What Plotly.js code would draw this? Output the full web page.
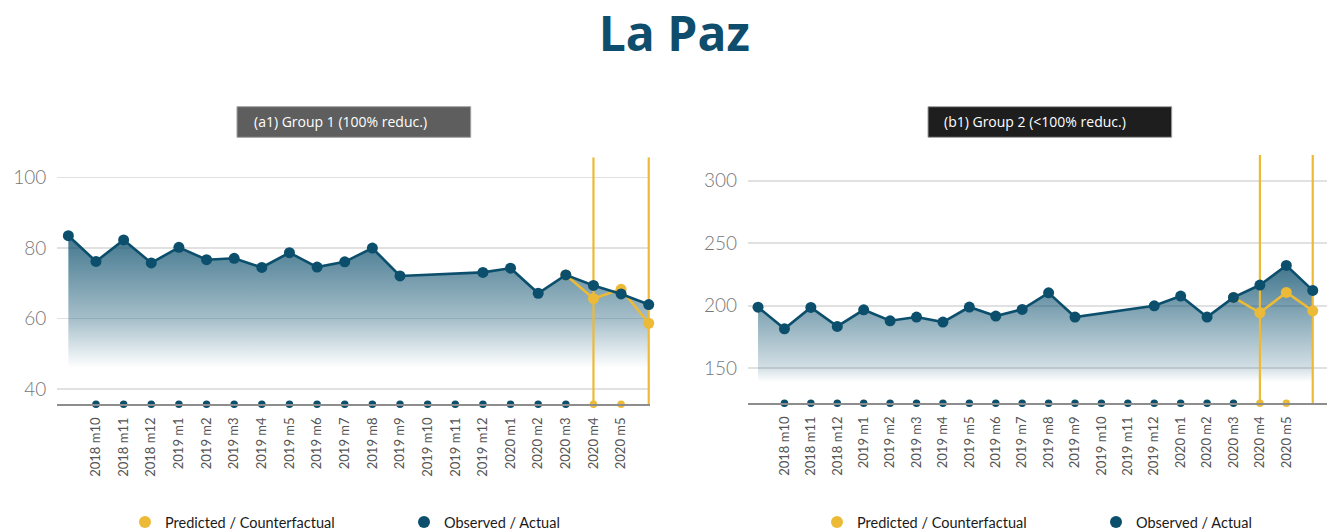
<!DOCTYPE html>
<html>
<head>
<meta charset="utf-8">
<script src="https://cdn.plot.ly/plotly-3.0.1.min.js"></script>
<style>
  html, body { margin: 0; padding: 0; background: #ffffff; }
  #chart { width: 1330px; height: 531px; }
</style>
</head>
<body>
<div id="chart"></div>
<script>
// ---------- DATA ----------
const chartTitle = "La Paz";
const panelTitleA = "(a1) Group 1 (100% reduc.)";
const panelTitleB = "(b1) Group 2 (<100% reduc.)";

// periods on the x axis (first and last are plotted but not labelled)
const periods = ["2018 m9", "2018 m10", "2018 m11", "2018 m12",
  "2019 m1", "2019 m2", "2019 m3", "2019 m4", "2019 m5", "2019 m6",
  "2019 m7", "2019 m8", "2019 m9", "2019 m10", "2019 m11", "2019 m12",
  "2020 m1", "2020 m2", "2020 m3", "2020 m4", "2020 m5", "2020 m6"];
const tickLabels = periods.slice(1, 21);            // "2018 m10" ... "2020 m5"
const observedTickLabels = tickLabels.slice(0, 18); // up to 2020 m3
const predictedTickLabels = tickLabels.slice(18);   // 2020 m4, 2020 m5
const interventionMarks = ["2020 m4", "2020 m6"];

// Group 1 (100% reduction)
const observedA = [83.5, 76.2, 82.3, 75.8, 80.2, 76.7, 77.1, 74.5, 78.7, 74.6,
  76.1, 80.0, 72.1, null, null, 73.1, 74.3, 67.2, 72.4, 69.4, 67.0, 64.0];
const predictedA = [null, null, null, null, null, null, null, null, null, null,
  null, null, null, null, null, null, null, null, 72.4, 65.7, 68.3, 58.7];

// Group 2 (<100% reduction)
const observedB = [198.9, 181.6, 198.7, 183.5, 196.8, 188.0, 191.0, 187.0, 199.0, 191.8,
  197.1, 210.4, 191.0, null, null, 200.0, 207.8, 191.0, 206.7, 216.6, 232.3, 212.3];
const predictedB = [null, null, null, null, null, null, null, null, null, null,
  null, null, null, null, null, null, null, null, 206.7, 194.4, 210.7, 196.0];

const yTicksA = [40, 60, 80, 100];
const yTicksB = [150, 200, 250, 300];

const legendPredicted = "Predicted / Counterfactual";
const legendObserved = "Observed / Actual";

// ---------- STYLE ----------
const W = 1330, H = 531;
const BLUE = "#0c4f6d";
const GOLD = "#ecba36";
const rangeYA = [35.75, 105.7];
const rangeYB = [122, 320.6];
const px = v => v / W;
const py = v => (H - v) / H;

function fillTrace(y, xa, ya, start, stop, stops) {
  return {
    x: periods, y: y, xaxis: xa, yaxis: ya, type: "scatter", mode: "lines",
    connectgaps: true, fill: "tozeroy", line: { width: 0, color: "rgba(0,0,0,0)" },
    fillcolor: "rgba(12,80,110,0.4)",
    fillgradient: { type: "vertical", start: start, stop: stop, colorscale: stops },
    hoverinfo: "skip", showlegend: false
  };
}
function vlineTraces(xa, ya, yr) {
  return interventionMarks.map(p => ({
    x: [p, p], y: [yr[0], yr[1]], xaxis: xa, yaxis: ya, type: "scatter", mode: "lines",
    line: { color: GOLD, width: 2.2 }, cliponaxis: false, showlegend: false, hoverinfo: "skip"
  }));
}
function lineTrace(y, color, xa, ya) {
  return {
    x: periods, y: y, xaxis: xa, yaxis: ya, type: "scatter", mode: "lines+markers",
    connectgaps: true, line: { color: color, width: 2.6 },
    marker: { color: color, size: 11 }, cliponaxis: false, showlegend: false
  };
}
function dotTrace(xs, color, xa, ya, yr) {
  return {
    x: xs, y: xs.map(() => yr[0]), xaxis: xa, yaxis: ya, type: "scatter", mode: "markers",
    marker: { color: color, size: 7.5 }, cliponaxis: false, showlegend: false, hoverinfo: "skip"
  };
}
function legendTrace(name, color, legend) {
  return {
    x: [null], y: [null], type: "scatter", mode: "markers", name: name,
    marker: { color: color, size: 12 }, legend: legend, showlegend: true
  };
}

const scaleA = [[0, "rgba(12,80,110,0)"], [0.37, "rgba(12,80,110,0.37)"], [1, "rgba(12,80,110,0.79)"]];
const scaleB = [[0, "rgba(12,80,110,0)"], [0.12, "rgba(12,80,110,0.18)"], [0.65, "rgba(12,80,110,0.55)"], [1, "rgba(12,80,110,0.79)"]];

const data = [
  fillTrace(observedA, "x", "y", 46, 84, scaleA),
  ...vlineTraces("x", "y", rangeYA),
  lineTrace(predictedA, GOLD, "x", "y"),
  lineTrace(observedA, BLUE, "x", "y"),
  dotTrace(observedTickLabels, BLUE, "x", "y", rangeYA),
  dotTrace(predictedTickLabels, GOLD, "x", "y", rangeYA),

  fillTrace(observedB, "x2", "y2", 139, 233, scaleB),
  ...vlineTraces("x2", "y2", rangeYB),
  lineTrace(predictedB, GOLD, "x2", "y2"),
  lineTrace(observedB, BLUE, "x2", "y2"),
  dotTrace(observedTickLabels, BLUE, "x2", "y2", rangeYB),
  dotTrace(predictedTickLabels, GOLD, "x2", "y2", rangeYB),

  legendTrace(legendPredicted, GOLD, "legend"),
  legendTrace(legendObserved, BLUE, "legend"),
  legendTrace(legendPredicted, GOLD, "legend2"),
  legendTrace(legendObserved, BLUE, "legend2")
];

const xBase = {
  type: "category", categoryorder: "array", categoryarray: periods,
  tickmode: "array", tickvals: tickLabels, ticktext: tickLabels,
  tickangle: -90, ticks: "", showgrid: false, zeroline: false,
  showline: true, linecolor: "#8d8d8d", linewidth: 2,
  tickfont: { family: "Lato, 'Open Sans', sans-serif", size: 13, color: "#555555" },
  ticklabelstandoff: 6, fixedrange: true, automargin: false
};
const yBase = {
  tickmode: "array", ticks: "", showline: false, zeroline: false,
  showgrid: true, gridcolor: "#e1e1e1", gridwidth: 1.6,
  tickfont: { family: "Lato, 'Open Sans', sans-serif", size: 19, color: "#777777", weight: 300 },
  ticklabelstandoff: 10, fixedrange: true, automargin: false
};

const layout = {
  width: W, height: H,
  margin: { l: 0, r: 0, t: 0, b: 0, autoexpand: false },
  paper_bgcolor: "#ffffff", plot_bgcolor: "rgba(0,0,0,0)",
  font: { family: "Lato, 'Open Sans', sans-serif" },
  title: {
    text: "<b>" + chartTitle + "</b>", x: 0.507, xanchor: "center", y: 1 - 34 / H, yanchor: "middle",
    font: { family: "'Open Sans', Lato, sans-serif", size: 48, color: "#0f4d6c" }
  },
  xaxis: Object.assign({}, xBase, { domain: [px(57.3), px(650.4)], range: [-0.4, 21.06], anchor: "y" }),
  yaxis: Object.assign({}, yBase, { domain: [py(404.3), py(157.3)], range: rangeYA, tickvals: yTicksA, anchor: "x" }),
  xaxis2: Object.assign({}, xBase, { domain: [px(748), px(1327)], range: [-0.38, 21.54], anchor: "y2" }),
  yaxis2: Object.assign({}, yBase, { domain: [py(403.3), py(155)], range: rangeYB, tickvals: yTicksB, anchor: "x2" }),
  shapes: [
    { type: "rect", xref: "paper", yref: "paper", x0: px(237), x1: px(470.7), y0: py(137.3), y1: py(106.7),
      fillcolor: "#5e5e5e", line: { color: "#a0a0a0", width: 1 } },
    { type: "rect", xref: "paper", yref: "paper", x0: px(928), x1: px(1171.7), y0: py(137.3), y1: py(106.7),
      fillcolor: "#1e1e1e", line: { color: "#a0a0a0", width: 1 } }
  ],
  annotations: [
    { text: panelTitleA, xref: "paper", yref: "paper", x: px(251.5), y: py(122), xanchor: "left", yanchor: "middle",
      showarrow: false, font: { family: "'Open Sans', Lato, sans-serif", size: 14, color: "#ffffff" } },
    { text: panelTitleB, xref: "paper", yref: "paper", x: px(941.5), y: py(122), xanchor: "left", yanchor: "middle",
      showarrow: false, font: { family: "'Open Sans', Lato, sans-serif", size: 14, color: "#ffffff" } }
  ],
  legend: {
    orientation: "h", x: px(125), xanchor: "left", y: py(522), yanchor: "middle",
    entrywidth: 234, entrywidthmode: "pixels", bgcolor: "rgba(0,0,0,0)",
    font: { family: "Lato, 'Open Sans', sans-serif", size: 14.5, color: "#1a1a1a" }, itemclick: false
  },
  legend2: {
    orientation: "h", x: px(817), xanchor: "left", y: py(522), yanchor: "middle",
    entrywidth: 234, entrywidthmode: "pixels", bgcolor: "rgba(0,0,0,0)",
    font: { family: "Lato, 'Open Sans', sans-serif", size: 14.5, color: "#1a1a1a" }, itemclick: false
  },
  showlegend: true
};

Plotly.newPlot("chart", data, layout, { displayModeBar: false, staticPlot: true });
</script>
</body>
</html>
